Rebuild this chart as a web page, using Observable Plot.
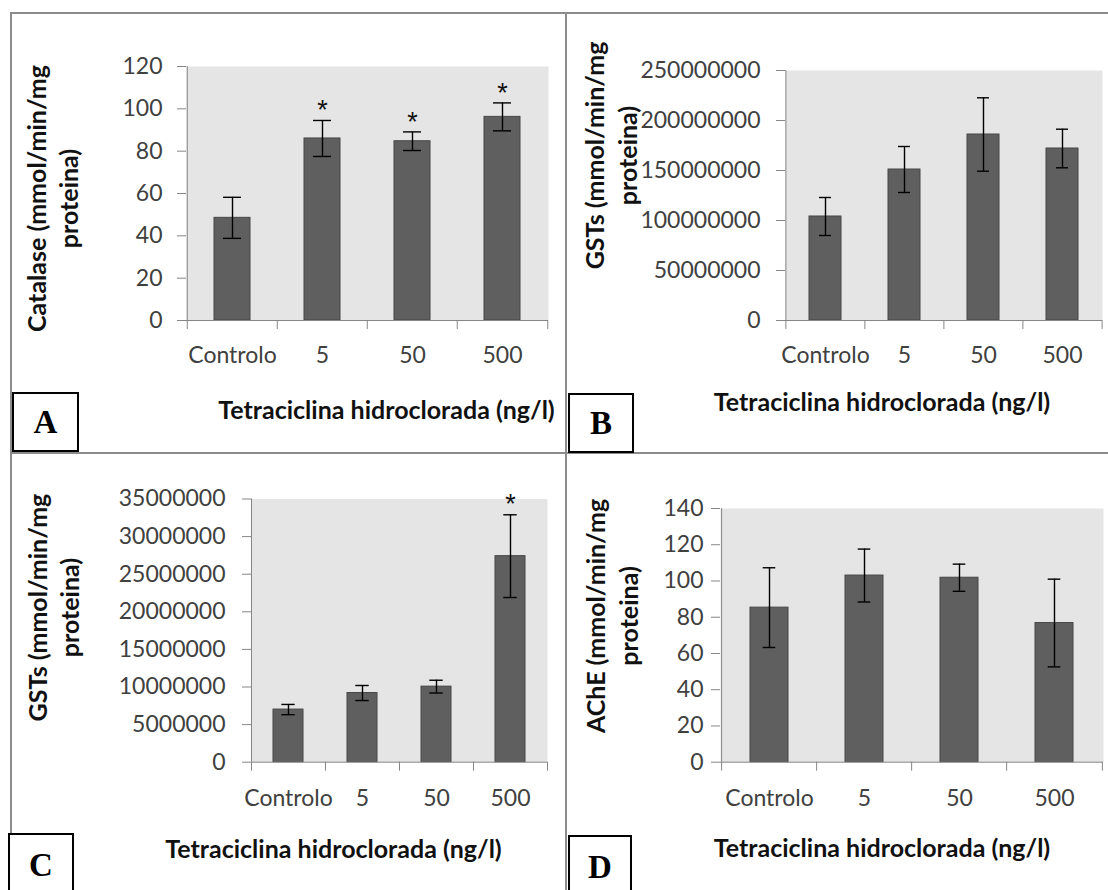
<!DOCTYPE html>
<html><head><meta charset="utf-8">
<script src="https://cdn.jsdelivr.net/npm/d3@7"></script>
<script src="https://cdn.jsdelivr.net/npm/@observablehq/plot@0.6"></script>
<style>
html,body{margin:0;padding:0;background:#fff;}
#root{position:relative;width:1108px;height:890px;overflow:hidden;background:#fff;}
.panel{position:absolute;}
.line{position:absolute;background:#8c8c8c;}
.tag{position:absolute;box-sizing:border-box;border:2px solid #000;background:#fff;font-family:"Liberation Serif","Times New Roman",serif;font-weight:bold;font-size:33px;display:flex;align-items:center;justify-content:center;color:#000;}
</style></head><body><div id="root"></div>
<script>
// ---- data ----
const categories = ["Controlo", "5", "50", "500"];
const xTitle = "Tetraciclina hidroclorada (ng/l)";

const catalaseTitle = "Catalase (mmol/min/mg\nproteina)";
const catalaseMean = [48.5, 86, 84.7, 96.2];
const catalaseErr = [9.7, 8.5, 4.4, 6.6];
const catalaseSig = [false, true, true, true];
const catalaseTicks = [0, 20, 40, 60, 80, 100, 120];

const gstsBTitle = "GSTs (mmol/min/mg\nproteina)";
const gstsBMean = [104000000, 151000000, 186000000, 172000000];
const gstsBErr = [19000000, 23000000, 36700000, 19300000];
const gstsBSig = [false, false, false, false];
const gstsBTicks = [0, 50000000, 100000000, 150000000, 200000000, 250000000];

const gstsCTitle = "GSTs (mmol/min/mg\nproteina)";
const gstsCMean = [7000000, 9200000, 10050000, 27400000];
const gstsCErr = [680000, 1000000, 850000, 5500000];
const gstsCSig = [false, false, false, true];
const gstsCTicks = [0, 5000000, 10000000, 15000000, 20000000, 25000000, 30000000, 35000000];

const acheTitle = "AChE (mmol/min/mg\nproteina)";
const acheMean = [85.3, 103, 101.8, 76.8];
const acheErr = [22, 14.6, 7.5, 24.2];
const acheSig = [false, false, false, false];
const acheTicks = [0, 20, 40, 60, 80, 100, 120, 140];

const panelLetters = ["A", "B", "C", "D"];

// ---- drawing ----
const gray = "#868686", ink = "#404040", dark = "#111";

function panel(cfg) {
  const step = (cfg.width - cfg.ml - cfg.mr) / categories.length;
  const rows = categories.map((c, i) => ({cat: c, mean: cfg.mean[i], err: cfg.err[i], sig: cfg.sig[i]}));
  const errStyle = {stroke: "#000", strokeWidth: 1.4};
  return Plot.plot({
    width: cfg.width, height: cfg.height,
    marginLeft: cfg.ml, marginRight: cfg.mr, marginTop: cfg.mt, marginBottom: cfg.mb,
    style: {fontFamily: "Lato, 'Open Sans', sans-serif", fontSize: "23px", color: ink, background: "transparent", overflow: "visible"},
    x: {domain: categories, paddingInner: 0.6, paddingOuter: 0.3},
    y: {domain: [0, cfg.ticks[cfg.ticks.length - 1]]},
    marks: [
      Plot.frame({fill: "#e5e5e5", stroke: "none"}),
      Plot.barY(rows, {x: "cat", y: "mean", fill: "#5f5f5f", stroke: "#474747", strokeWidth: 1}),
      Plot.ruleX(rows, {x: "cat", y1: d => d.mean - d.err, y2: d => d.mean + d.err, ...errStyle}),
      Plot.tickY(rows, {x: "cat", y: d => d.mean + d.err, insetLeft: cfg.capInset, insetRight: cfg.capInset, ...errStyle}),
      Plot.tickY(rows, {x: "cat", y: d => d.mean - d.err, insetLeft: cfg.capInset, insetRight: cfg.capInset, ...errStyle}),
      Plot.ruleY([0], {stroke: gray}),
      Plot.ruleX([categories[0]], {dx: -step / 2, stroke: gray}),
      Plot.axisY({ticks: cfg.ticks, tickSize: 9, tickPadding: cfg.tp, tickFormat: d => String(d), stroke: gray, fill: ink, label: null}),
      Plot.axisX({tickSize: 9, tickFormat: () => "", dx: -step / 2, stroke: gray, label: null}),
      Plot.axisX({ticks: [categories[categories.length - 1]], tickSize: 9, tickFormat: () => "", dx: step / 2, stroke: gray, label: null}),
      Plot.axisX({tickSize: 0, tickPadding: cfg.xp, fill: ink, label: null}),
      Plot.text([xTitle], {text: d => d, frameAnchor: "bottom", textAnchor: "middle", dx: cfg.xdx, dy: cfg.xdy, fontWeight: "bold", fontSize: 25, fill: dark, lineAnchor: "middle"}),
      Plot.text([cfg.yTitle], {text: d => d, frameAnchor: "left", textAnchor: "middle", rotate: -90, dx: cfg.ydx, dy: cfg.ydy, fontWeight: "bold", fontSize: 25, lineHeight: 1.3, fill: dark, lineAnchor: "middle"}),
      Plot.text(rows.filter(d => d.sig), {x: "cat", y: d => d.mean + d.err, text: () => "*", dy: -10, fontSize: 27, fontFamily: "'Liberation Sans', Arial, sans-serif", fill: dark, lineAnchor: "middle"})
    ]
  });
}

const panels = [
  {left: 0, top: 0, width: 567, height: 453, ml: 186, mr: 19, mt: 66, mb: 133, tp: 15, xp: 26, capInset: 9,
   xdx: 19, xdy: 90, ydx: -135, ydy: 5,
   ticks: catalaseTicks, mean: catalaseMean, err: catalaseErr, sig: catalaseSig, yTitle: catalaseTitle},
  {left: 567, top: 0, width: 541, height: 453, ml: 218, mr: 6, mt: 70, mb: 133, tp: 16, xp: 26, capInset: 10,
   xdx: -62, xdy: 82, ydx: -175.5, ydy: -40,
   ticks: gstsBTicks, mean: gstsBMean, err: gstsBErr, sig: gstsBSig, yTitle: gstsBTitle},
  {left: 0, top: 453, width: 567, height: 437, ml: 251, mr: 20, mt: 45.5, mb: 128.3, tp: 17, xp: 27, capInset: 8.3,
   xdx: -66, xdy: 88, ydx: -199, ydy: -23,
   ticks: gstsCTicks, mean: gstsCMean, err: gstsCErr, sig: gstsCSig, yTitle: gstsCTitle},
  {left: 567, top: 453, width: 541, height: 437, ml: 153, mr: 5, mt: 55, mb: 128.3, tp: 8, xp: 27, capInset: 12.7,
   xdx: -30, xdy: 87, ydx: -109.5, ydy: -19.4,
   ticks: acheTicks, mean: acheMean, err: acheErr, sig: acheSig, yTitle: acheTitle}
];

const root = document.getElementById("root");
for (const cfg of panels) {
  const div = document.createElement("div");
  div.className = "panel";
  div.style.left = cfg.left + "px";
  div.style.top = cfg.top + "px";
  div.appendChild(panel(cfg));
  root.appendChild(div);
}

// panel frame lines
const lines = [
  {l: 11, t: 12, w: 1097, h: 2},
  {l: 10, t: 12, w: 2, h: 878},
  {l: 565, t: 12, w: 2, h: 878},
  {l: 11, t: 452, w: 1097, h: 2}
];
for (const s of lines) {
  const d = document.createElement("div");
  d.className = "line";
  Object.assign(d.style, {left: s.l + "px", top: s.t + "px", width: s.w + "px", height: s.h + "px"});
  root.appendChild(d);
}

// panel letter boxes
const tagBoxes = [
  {l: 12, t: 392, w: 67, h: 60},
  {l: 568, t: 393, w: 66, h: 60},
  {l: 8, t: 833, w: 66, h: 64},
  {l: 568, t: 835, w: 64, h: 64}
];
tagBoxes.forEach((s, i) => {
  const d = document.createElement("div");
  d.className = "tag";
  Object.assign(d.style, {left: s.l + "px", top: s.t + "px", width: s.w + "px", height: s.h + "px"});
  d.textContent = panelLetters[i];
  root.appendChild(d);
});
</script>
</body></html>
